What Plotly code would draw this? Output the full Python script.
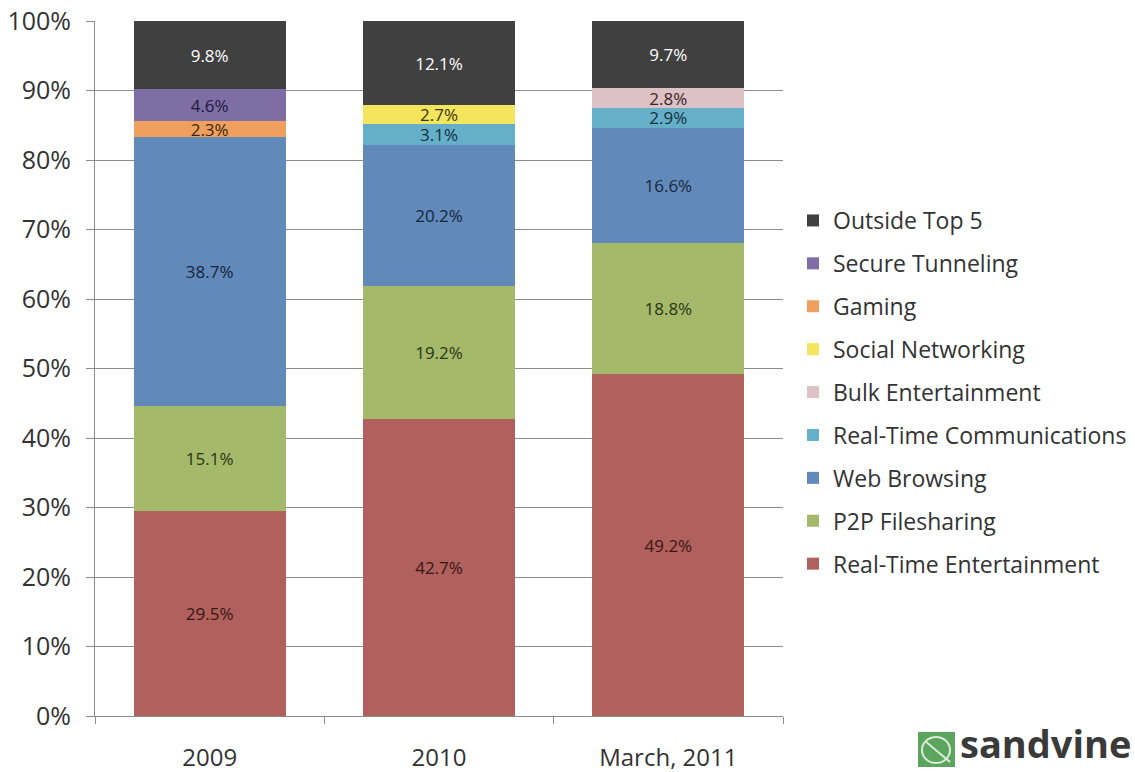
import plotly.graph_objects as go

categories = ["2009", "2010", "March, 2011"]

# stacking order bottom -> top
series_names = [
    "Real-Time Entertainment",
    "P2P Filesharing",
    "Web Browsing",
    "Real-Time Communications",
    "Bulk Entertainment",
    "Social Networking",
    "Gaming",
    "Secure Tunneling",
    "Outside Top 5",
]
rte = [29.5, 42.7, 49.2]
p2p = [15.1, 19.2, 18.8]
web = [38.7, 20.2, 16.6]
rtc = [None, 3.1, 2.9]
bulk = [None, None, 2.8]
social = [None, 2.7, None]
gaming = [2.3, None, None]
secure = [4.6, None, None]
outside = [9.8, 12.1, 9.7]
series_values = [rte, p2p, web, rtc, bulk, social, gaming, secure, outside]

colors = ["#B0605D", "#A5B96B", "#6189B9", "#66AFC9", "#DCC1C5",
          "#F3E55E", "#F0A05E", "#7E6EA5", "#404040"]
text_colors = ["#3a1614", "#2a3512", "#17263d", "#12303c", "#3a2528",
               "#3a3510", "#3a2510", "#1c1a3c", "#ffffff"]

FONT = "Open Sans, Noto Sans, sans-serif"

fig = go.Figure()
n = len(series_names)
for i, (name, vals) in enumerate(zip(series_names, series_values)):
    fig.add_trace(go.Bar(
        x=categories, y=vals, name=name,
        marker=dict(color=colors[i], line=dict(width=0)),
        texttemplate="%{y:.1f}%",
        textposition="inside",
        insidetextanchor="middle",
        constraintext="none",
        textangle=0,
        textfont=dict(family=FONT, size=17, color=text_colors[i]),
        legendgroup=name,
        legendrank=n - i,
        hoverinfo="skip",
    ))

W, H = 1135, 772
L, R, T, B = 95, 783, 21, 716


def px(x):  # page x -> paper
    return (x - L) / (R - L)


def py(y):  # page y -> paper
    return (B - y) / (B - T)


fig.update_layout(
    width=W, height=H,
    barmode="stack",
    bargap=0.337,
    plot_bgcolor="white",
    paper_bgcolor="white",
    margin=dict(l=L, r=W - R, t=T, b=H - B, pad=0, autoexpand=False),
    font=dict(family=FONT, color="#404040"),
    showlegend=True,
    legend=dict(
        xref="container", yref="container",
        x=793 / W, y=1 - 199 / H,
        xanchor="left", yanchor="top",
        traceorder="grouped",
        tracegroupgap=10,
        maxheight=600,
        font=dict(family=FONT, size=23, color="#333333"),
        bgcolor="rgba(0,0,0,0)",
        itemclick=False, itemdoubleclick=False,
    ),
    xaxis=dict(
        type="category",
        showgrid=False,
        automargin=False,
        showline=True, linecolor="#8c8c8c", linewidth=1,
        ticks="outside", ticklen=7, tickcolor="#8c8c8c",
        tickson="boundaries",
        ticklabelstandoff=20,
        ticklabeloverflow="allow",
        tickfont=dict(family=FONT, size=24, color="#333333"),
        fixedrange=True,
    ),
    yaxis=dict(
        range=[0, 100], dtick=10, ticksuffix="%",
        automargin=False,
        showgrid=True, gridcolor="#8c8c8c", gridwidth=1,
        showline=True, linecolor="#8c8c8c", linewidth=1,
        ticks="outside", ticklen=8, tickcolor="#8c8c8c",
        ticklabelstandoff=10,
        ticklabeloverflow="allow",
        tickfont=dict(family=FONT, size=25, color="#333333"),
        zeroline=False,
        fixedrange=True,
    ),
)

# sandvine logo: green square + wordmark
fig.add_shape(type="rect", xref="paper", yref="paper",
              x0=px(918), x1=px(955), y0=py(767), y1=py(732),
              fillcolor="#5BA55E", line=dict(width=0), layer="above")
fig.add_shape(type="circle", xref="paper", yref="paper",
              x0=px(922), x1=px(950), y0=py(763), y1=py(737),
              fillcolor="rgba(0,0,0,0)", line=dict(width=2, color="#d8ecd8"),
              layer="above")
fig.add_shape(type="line", xref="paper", yref="paper",
              x0=px(925), x1=px(950), y0=py(741), y1=py(762),
              line=dict(width=2, color="#d8ecd8"), layer="above")
fig.add_annotation(xref="paper", yref="paper",
                   x=px(958), y=py(771), xanchor="left", yanchor="bottom",
                   text="<b>sandvine</b>", showarrow=False,
                   font=dict(family=FONT, size=38, color="#3a3a3a"))

# remove the browser's default 8px body margin so the figure fills the page
fig.write_html("out.html",
               config={"displayModeBar": False},
               post_script="document.body.style.margin='0';"
                           "document.body.style.overflow='hidden';")
